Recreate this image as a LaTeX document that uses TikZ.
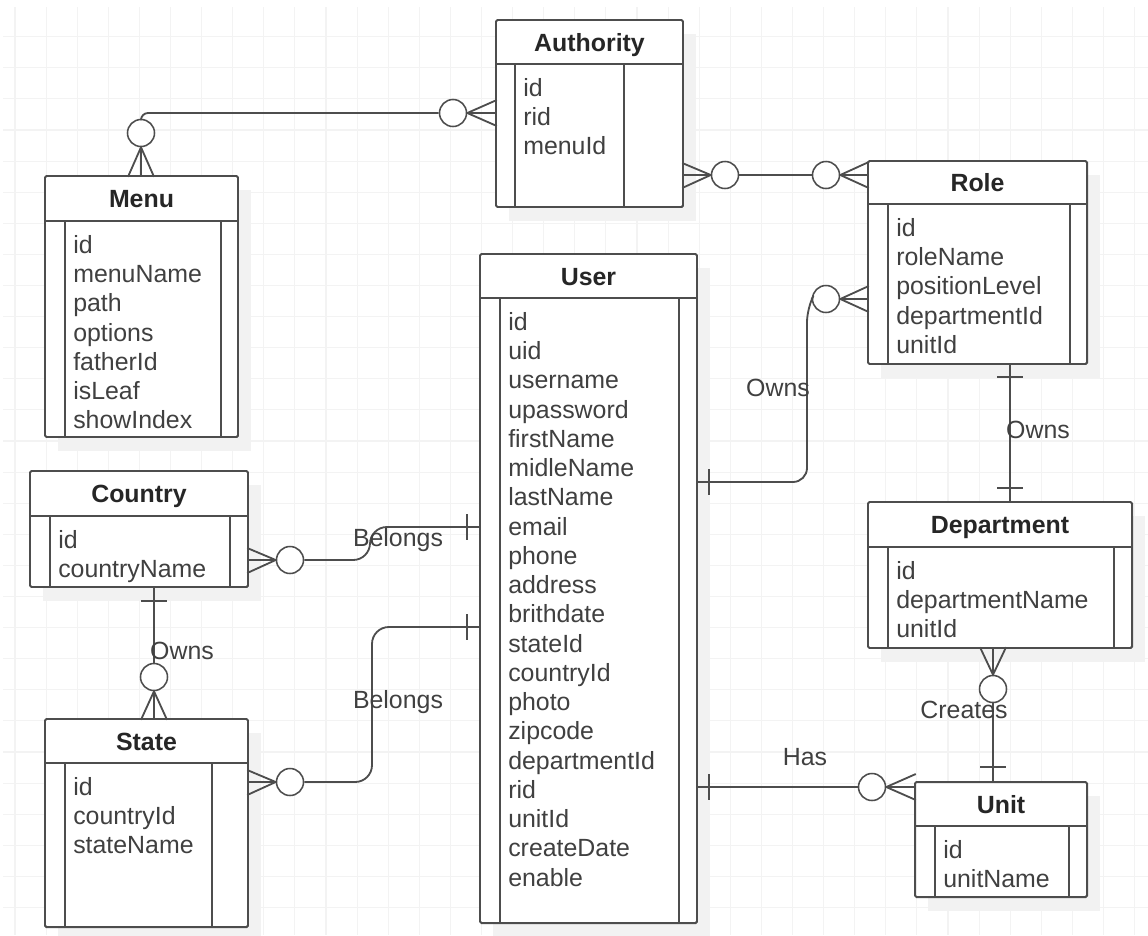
\documentclass[tikz,border=0pt]{standalone}
\usepackage{fontspec}
\setmainfont{Liberation Sans}
\usetikzlibrary{fit}

\definecolor{linegray}{HTML}{4D4D4D}
\definecolor{textgray}{HTML}{404040}
\definecolor{gridgray}{HTML}{F3F3F3}
\definecolor{shadowgray}{HTML}{F2F2F2}

\begin{document}
\begin{tikzpicture}[
    x=0.025cm, y=-0.025cm,
    % Entity boxes and their parts
    entity/.style={rectangle, draw=linegray, fill=white, line width=1.4pt, inner sep=0pt, rounded corners=1pt},
    divider/.style={draw=linegray, line width=1.4pt},
    boxshadow/.style={fill=shadowgray},
    entitytitle/.style={anchor=base, inner sep=0pt, font=\fontsize{17.7}{20.8}\selectfont\bfseries, text=black!85},
    fields/.style={anchor=north west, inner sep=0pt, align=left, font=\fontsize{17.7}{20.8}\selectfont, text=textgray},
    % Relations
    rel/.style={draw=linegray, line width=1.3pt},
    zerocircle/.style={circle, draw=linegray, fill=white, line width=1.1pt, minimum size=0.675cm, inner sep=0pt},
    rellabel/.style={inner sep=0pt, font=\fontsize{17.7}{20.8}\selectfont, text=textgray},
    gridline/.style={draw=gridgray, line width=0.8pt}
]
\useasboundingbox (0,0) rectangle (1148,935);

% Background grid
\foreach \gx in {0,...,36} \draw[gridline] ({15+31.1*\gx},7) -- ({15+31.1*\gx},935);
\foreach \gy in {0,...,28} \draw[gridline] (3,{36.7+31.1*\gy}) -- (1148,{36.7+31.1*\gy});

% Authority
\fill[boxshadow] (509,34) rectangle (696,221);
\node[entity, fit={(496,20) (683,207)}] (authority) {};
\draw[divider] (496,64) -- (683,64) (515,64) -- (515,207) (624,64) -- (624,207);
\node[entitytitle] (authorityT) at (589.5,51) {Authority};
\node[fields] (authorityF) at (523,78) {id\\rid\\menuId};

% Menu
\fill[boxshadow] (58,190) rectangle (251,451);
\node[entity, fit={(45,176) (238,437)}] (menu) {};
\draw[divider] (45,221) -- (238,221) (65,221) -- (65,437) (221,221) -- (221,437);
\node[entitytitle] (menuT) at (141.5,207.5) {Menu};
\node[fields] (menuF) at (73,235) {id\\menuName\\path\\options\\fatherId\\isLeaf\\showIndex};

% Role
\fill[boxshadow] (881,175) rectangle (1100,378);
\node[entity, fit={(868,161) (1087,364)}] (role) {};
\draw[divider] (868,204) -- (1087,204) (888,204) -- (888,364) (1070,204) -- (1070,364);
\node[entitytitle] (roleT) at (977.5,191.5) {Role};
\node[fields] (roleF) at (896,218) {id\\roleName\\positionLevel\\departmentId\\unitId};

% User
\fill[boxshadow] (493,268) rectangle (710,937);
\node[entity, fit={(480,254) (697,923)}] (user) {};
\draw[divider] (480,298) -- (697,298) (500,298) -- (500,923) (679,298) -- (679,923);
\node[entitytitle] (userT) at (588.5,285) {User};
\node[fields] (userF) at (508,312) {id\\uid\\username\\upassword\\firstName\\midleName\\lastName\\email\\phone\\address\\brithdate\\stateId\\countryId\\photo\\zipcode\\departmentId\\rid\\unitId\\createDate\\enable};

% Country
\fill[boxshadow] (43,485) rectangle (261,601);
\node[entity, fit={(30,471) (248,587)}] (country) {};
\draw[divider] (30,516) -- (248,516) (50,516) -- (50,587) (230,516) -- (230,587);
\node[entitytitle] (countryT) at (139,502.5) {Country};
\node[fields] (countryF) at (58,530) {id\\countryName};

% State
\fill[boxshadow] (58,733) rectangle (261,941);
\node[entity, fit={(45,719) (248,927)}] (state) {};
\draw[divider] (45,763) -- (248,763) (65,763) -- (65,927) (212,763) -- (212,927);
\node[entitytitle] (stateT) at (146.5,750) {State};
\node[fields] (stateF) at (73,777) {id\\countryId\\stateName};

% Department
\fill[boxshadow] (881,516) rectangle (1145,662);
\node[entity, fit={(868,502) (1132,648)}] (department) {};
\draw[divider] (868,547) -- (1132,547) (888,547) -- (888,648) (1114,547) -- (1114,648);
\node[entitytitle] (departmentT) at (1000,533.5) {Department};
\node[fields] (departmentF) at (896,561) {id\\departmentName\\unitId};

% Unit
\fill[boxshadow] (928,796) rectangle (1100,911);
\node[entity, fit={(915,782) (1087,897)}] (unit) {};
\draw[divider] (915,826) -- (1087,826) (935,826) -- (935,897) (1069,826) -- (1069,897);
\node[entitytitle] (unitT) at (1001,813) {Unit};
\node[fields] (unitF) at (943,840) {id\\unitName};

% Menu -- Authority
\node[zerocircle] (menuC) at (141,133) {};
\node[zerocircle] (authorityC1) at (453,113) {};
\draw[rel, rounded corners=5] (menuC.north) |- (authorityC1.west);
\draw[rel] (menuC.south) -- ++(-13,29.5) (menuC.south) -- ++(0,29.5) (menuC.south) -- ++(13,29.5);
\draw[rel] (authorityC1.east) -- ++(29.5,-13) (authorityC1.east) -- ++(29.5,0) (authorityC1.east) -- ++(29.5,13);

% Authority -- Role
\node[zerocircle] (authorityC2) at (725,175) {};
\node[zerocircle] (roleC1) at (826,175) {};
\draw[rel] (authorityC2.east) -- (roleC1.west);
\draw[rel] (authorityC2.west) -- ++(-28.5,-12) (authorityC2.west) -- ++(-28.5,0) (authorityC2.west) -- ++(-28.5,13);
\draw[rel] (roleC1.east) -- ++(28.5,-13) (roleC1.east) -- ++(28.5,0) (roleC1.east) -- ++(28.5,13);

% User -- Role
\coordinate (userE1) at (697,482);
\node[zerocircle] (roleC2) at (826,299) {};
\draw[rel, rounded corners=10] (userE1) -- (807,482) -- (807,308) -- (roleC2.west);
\draw[rel] (userE1) ++(12,-13) -- ++(0,26);
\draw[rel] (roleC2.east) -- ++(28.5,-13) (roleC2.east) -- ++(28.5,0) (roleC2.east) -- ++(28.5,13);
\node[rellabel] (ownsUR) at (778,388) {Owns};

% Role -- Department
\coordinate (roleS) at (1010,364);
\coordinate (departmentN) at (1010,502);
\draw[rel] (roleS) -- (departmentN);
\draw[rel] (roleS) ++(-13,13) -- ++(26,0);
\draw[rel] (departmentN) ++(-13,-14) -- ++(26,0);
\node[rellabel] (ownsRD) at (1038,430) {Owns};

% Country -- User
\node[zerocircle] (countryC) at (290,560) {};
\coordinate (userW1) at (480,527);
\draw[rel, rounded corners=12] (countryC.east) -- (370,560) -- (370,527) -- (userW1);
\draw[rel] (countryC.west) -- ++(-28.5,-12) (countryC.west) -- ++(-28.5,0) (countryC.west) -- ++(-28.5,13);
\draw[rel] (userW1) ++(-13,-13) -- ++(0,26);
\node[rellabel] (belongsCU) at (398,540) {Belongs};

% State -- User
\node[zerocircle] (stateC1) at (290,782) {};
\coordinate (userW2) at (480,627);
\draw[rel, rounded corners=12] (stateC1.east) -- (372,782) -- (372,627) -- (userW2);
\draw[rel] (stateC1.west) -- ++(-28.5,-12) (stateC1.west) -- ++(-28.5,0) (stateC1.west) -- ++(-28.5,13);
\draw[rel] (userW2) ++(-13,-13) -- ++(0,26);
\node[rellabel] (belongsSU) at (398,702) {Belongs};

% Country -- State
\coordinate (countryS) at (154,587);
\node[zerocircle] (stateC2) at (154,677) {};
\draw[rel] (countryS) -- (stateC2.north);
\draw[rel] (countryS) ++(-13,14) -- ++(26,0);
\draw[rel] (stateC2.south) -- ++(-13,28.5) (stateC2.south) -- ++(0,28.5) (stateC2.south) -- ++(13,28.5);
\node[rellabel] (ownsCS) at (182,651) {Owns};

% Department -- Unit
\node[zerocircle] (departmentC) at (993,689) {};
\coordinate (unitN) at (993,782);
\draw[rel] (departmentC.south) -- (unitN);
\draw[rel] (unitN) ++(-13,-15) -- ++(26,0);
\draw[rel] (departmentC.north) -- ++(-13,-27.5) (departmentC.north) -- ++(0,-27.5) (departmentC.north) -- ++(13,-27.5);
\node[rellabel] (createsDU) at (964,710) {Creates};

% User -- Unit
\coordinate (userE2) at (697,787);
\node[zerocircle] (unitC) at (872,787) {};
\draw[rel] (userE2) -- (unitC.west);
\draw[rel] (userE2) ++(12,-13) -- ++(0,26);
\draw[rel] (unitC.east) -- ++(29.5,-13) (unitC.east) -- ++(29.5,0) (unitC.east) -- ++(29.5,13);
\node[rellabel] (hasUU) at (805,757) {Has};

\end{tikzpicture}
\end{document}
